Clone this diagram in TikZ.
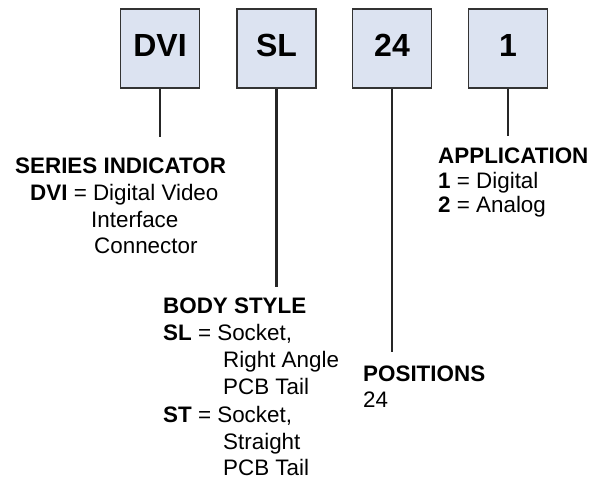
\documentclass[tikz,border=0pt]{standalone}
\usepackage{fontspec}
\setmainfont{Liberation Sans}
\definecolor{boxfill}{HTML}{DCE3F1}
\definecolor{boxline}{HTML}{333333}
\tikzset{
	codebox/.style={draw=boxline, line width=1.5pt, fill=boxfill, minimum width=79pt, minimum height=79pt,
		inner sep=0pt, text height=24pt, text depth=8pt, font=\fontsize{32}{32}\selectfont\bfseries},
	descr/.style={anchor=base west, inner sep=0pt, font=\fontsize{22.4}{27}\selectfont},
	lead/.style={line width=2.3pt, draw=black!85}
}
\begin{document}
\begin{tikzpicture}[x=1pt, y=-1pt]
		\useasboundingbox (0,0) rectangle (601,479);

		\node[codebox] (dvi) at (160,48.5) {DVI};
		\node[codebox] (sl)  at (276.5,48.5) {SL};
		\node[codebox] (pos) at (392,48.5) {24};
		\node[codebox] (app) at (508,48.5) {1};

		\coordinate (dviend) at (160,137);
		\coordinate (slend)  at (276.5,287);
		\coordinate (posend) at (392,352);
		\coordinate (append) at (508,136);

		\draw[lead] (dvi.south) -- (dviend);
		\draw[lead] (sl.south) -- (slend);
		\draw[lead] (pos.south) -- (posend);
		\draw[lead] (app.south) -- (append);

		% series indicator
		\node[descr] (serieshead) at (15,173) {\bfseries SERIES INDICATOR};
		\node[descr] (series1) at (30,200) {\textbf{DVI} = Digital Video};
		\node[descr] (series2) at (91,227) {Interface};
		\node[descr] (series3) at (94,253) {Connector};

		% body style
		\node[descr] (bodyhead) at (163,313) {\bfseries BODY STYLE};
		\node[descr] (body1) at (163,340) {\textbf{SL} = Socket,};
		\node[descr] (body2) at (223,367) {Right Angle};
		\node[descr] (body3) at (223,394) {PCB Tail};
		\node[descr] (body4) at (163,422) {\textbf{ST} = Socket,};
		\node[descr] (body5) at (223,449) {Straight};
		\node[descr] (body6) at (223,475) {PCB Tail};

		% positions
		\node[descr] (poshead) at (363,381) {\bfseries POSITIONS};
		\node[descr] (pos1) at (363,407) {24};

		% application
		\node[descr] (apphead) at (438,163) {\bfseries APPLICATION};
		\node[descr] (app1) at (438,188) {\textbf{1} = Digital};
		\node[descr] (app2) at (438,212) {\textbf{2} = Analog};
	\end{tikzpicture}
\end{document}
